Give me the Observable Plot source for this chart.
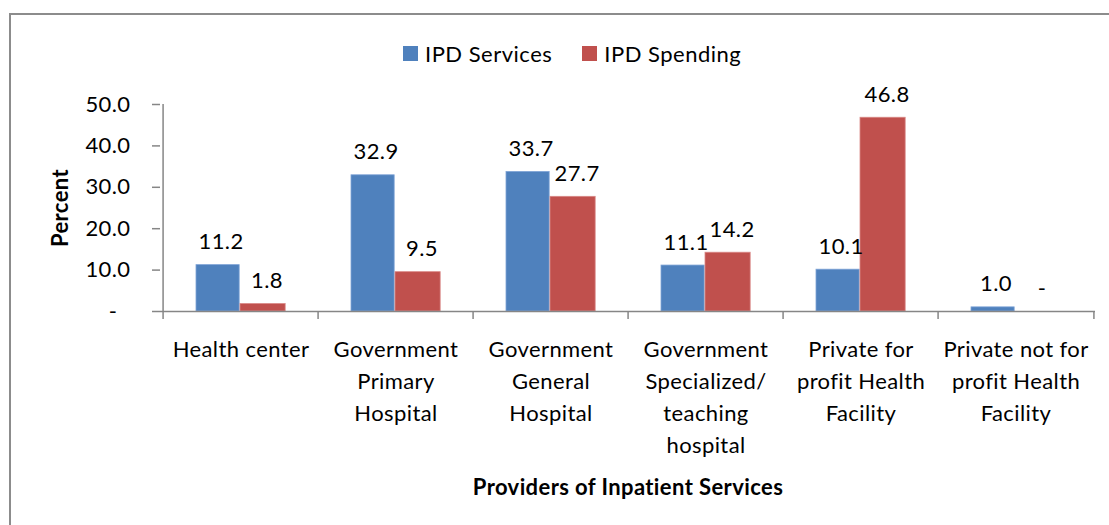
<!DOCTYPE html>
<html>
<head>
<meta charset="utf-8">
<script src="https://cdn.jsdelivr.net/npm/d3@7"></script>
<script src="https://cdn.jsdelivr.net/npm/@observablehq/plot@0.6"></script>
<style>
  body { margin: 0; background: #fff; font-family: Lato, "Open Sans", sans-serif; }
  #wrap { position: relative; width: 1109px; height: 525px; overflow: hidden; background: #fff; }
  #frame { position: absolute; left: 9px; top: 13px; width: 1200px; height: 700px;
           border-left: 2px solid #8c8c8c; border-top: 2px solid #8c8c8c; box-sizing: border-box; }
  #chart { position: absolute; left: 0; top: 0; }
  #legend { position: absolute; top: 40px; left: 403px; display: flex; align-items: center;
            font-size: 22px; color: #000; letter-spacing: 0.5px; }
  #legend .item { display: flex; align-items: center; margin-right: 30px; }
  #legend .sw { width: 15px; height: 15px; margin-right: 7px; }
  svg text { font-family: Lato, "Open Sans", sans-serif; letter-spacing: 0.4px; }
  [aria-label="x-axis label"] text, [aria-label="y-axis label"] text { font-weight: bold; }
</style>
</head>
<body>
<div id="wrap">
  <div id="frame"></div>
  <div id="chart"></div>
  <div id="legend"></div>
</div>
<script>
// ---- data ----
const categories = [
  "Health center",
  "Government\nPrimary\nHospital",
  "Government\nGeneral\nHospital",
  "Government\nSpecialized/\nteaching\nhospital",
  "Private for\nprofit Health\nFacility",
  "Private not for\nprofit Health\nFacility"
];
const series = ["IPD Services", "IPD Spending"];
const ipdServices = [11.2, 32.9, 33.7, 11.1, 10.1, 1.0];
const ipdSpending = [1.8, 9.5, 27.7, 14.2, 46.8, 0];
const yTicks = [0, 10, 20, 30, 40, 50];
const colors = ["#4F81BD", "#C0504D"];

const rows = [];
categories.forEach((c, i) => {
  rows.push({category: c, series: series[0], value: ipdServices[i]});
  rows.push({category: c, series: series[1], value: ipdSpending[i]});
});
const s0 = rows.filter(d => d.series === series[0]);
const s1 = rows.filter(d => d.series === series[1]);

const W = 1109, H = 525;
const mL = 160, mR = 14, mT = 104, mB = 214;
const bw = (W - mL - mR) / categories.length;
const axisGray = "#868686";
const fmt = d => d === 0 ? "-" : d.toFixed(1);

const chart = Plot.plot({
  width: W,
  height: H,
  marginLeft: mL, marginRight: mR, marginTop: mT, marginBottom: mB,
  style: {fontSize: "22px", fontFamily: "Lato, 'Open Sans', sans-serif", color: "#000", background: "transparent", overflow: "visible"},
  x: {type: "band", domain: categories, padding: 0},
  y: {domain: [0, 50]},
  color: {domain: series, range: colors},
  marks: [
    Plot.barY(s0, {x: "category", y: "value", fill: "series", insetLeft: 33, insetRight: bw - 77, stroke: "#7ea3d6", strokeWidth: 0.8}),
    Plot.barY(s1, {x: "category", y: "value", fill: "series", insetLeft: 77, insetRight: bw - 123, stroke: "#d98886", strokeWidth: 0.8}),
    Plot.ruleY([0], {stroke: axisGray, strokeWidth: 1.5}),
    // y axis line
    Plot.ruleX([categories[0]], {x: d => d, dx: -bw / 2, y1: 50, y2: 0, insetBottom: -8, stroke: axisGray, strokeWidth: 1.5}),
    // category boundary ticks
    Plot.ruleX(categories.slice(1), {x: d => d, dx: -bw / 2, y1: 0, y2: 0, insetBottom: -8, stroke: axisGray, strokeWidth: 1.5}),
    Plot.ruleX([categories[categories.length - 1]], {x: d => d, dx: bw / 2, y1: 0, y2: 0, insetBottom: -8, stroke: axisGray, strokeWidth: 1.5}),
    Plot.axisY({ticks: yTicks, tickFormat: d => d === 0 ? "-\u2007" : d.toFixed(1), tickSize: 8, tickPadding: 22,
      stroke: axisGray, strokeWidth: 1.5, fontSize: 22,
      label: "Percent", labelAnchor: "center", labelOffset: 108, labelArrow: "none"}),
    Plot.axisX({tickSize: 0, tickPadding: 23, fontSize: 22, lineHeight: 1.45,
      label: "Providers of Inpatient Services", labelAnchor: "center", labelOffset: 183, labelArrow: "none"}),
    Plot.text(s0, {x: "category", y: "value", text: d => fmt(d.value), dx: -20, dy: -23, fontSize: 22, lineAnchor: "middle"}),
    Plot.text(s1, {x: "category", y: "value", text: d => fmt(d.value), dx: 26, dy: -23, fontSize: 22, lineAnchor: "middle"})
  ]
});
document.getElementById("chart").appendChild(chart);

// legend
const lg = document.getElementById("legend");
series.forEach((s, i) => {
  const it = document.createElement("div");
  it.className = "item";
  const sw = document.createElement("div");
  sw.className = "sw";
  sw.style.background = colors[i];
  const t = document.createElement("span");
  t.textContent = s;
  it.appendChild(sw); it.appendChild(t);
  lg.appendChild(it);
});
</script>
</body>
</html>
